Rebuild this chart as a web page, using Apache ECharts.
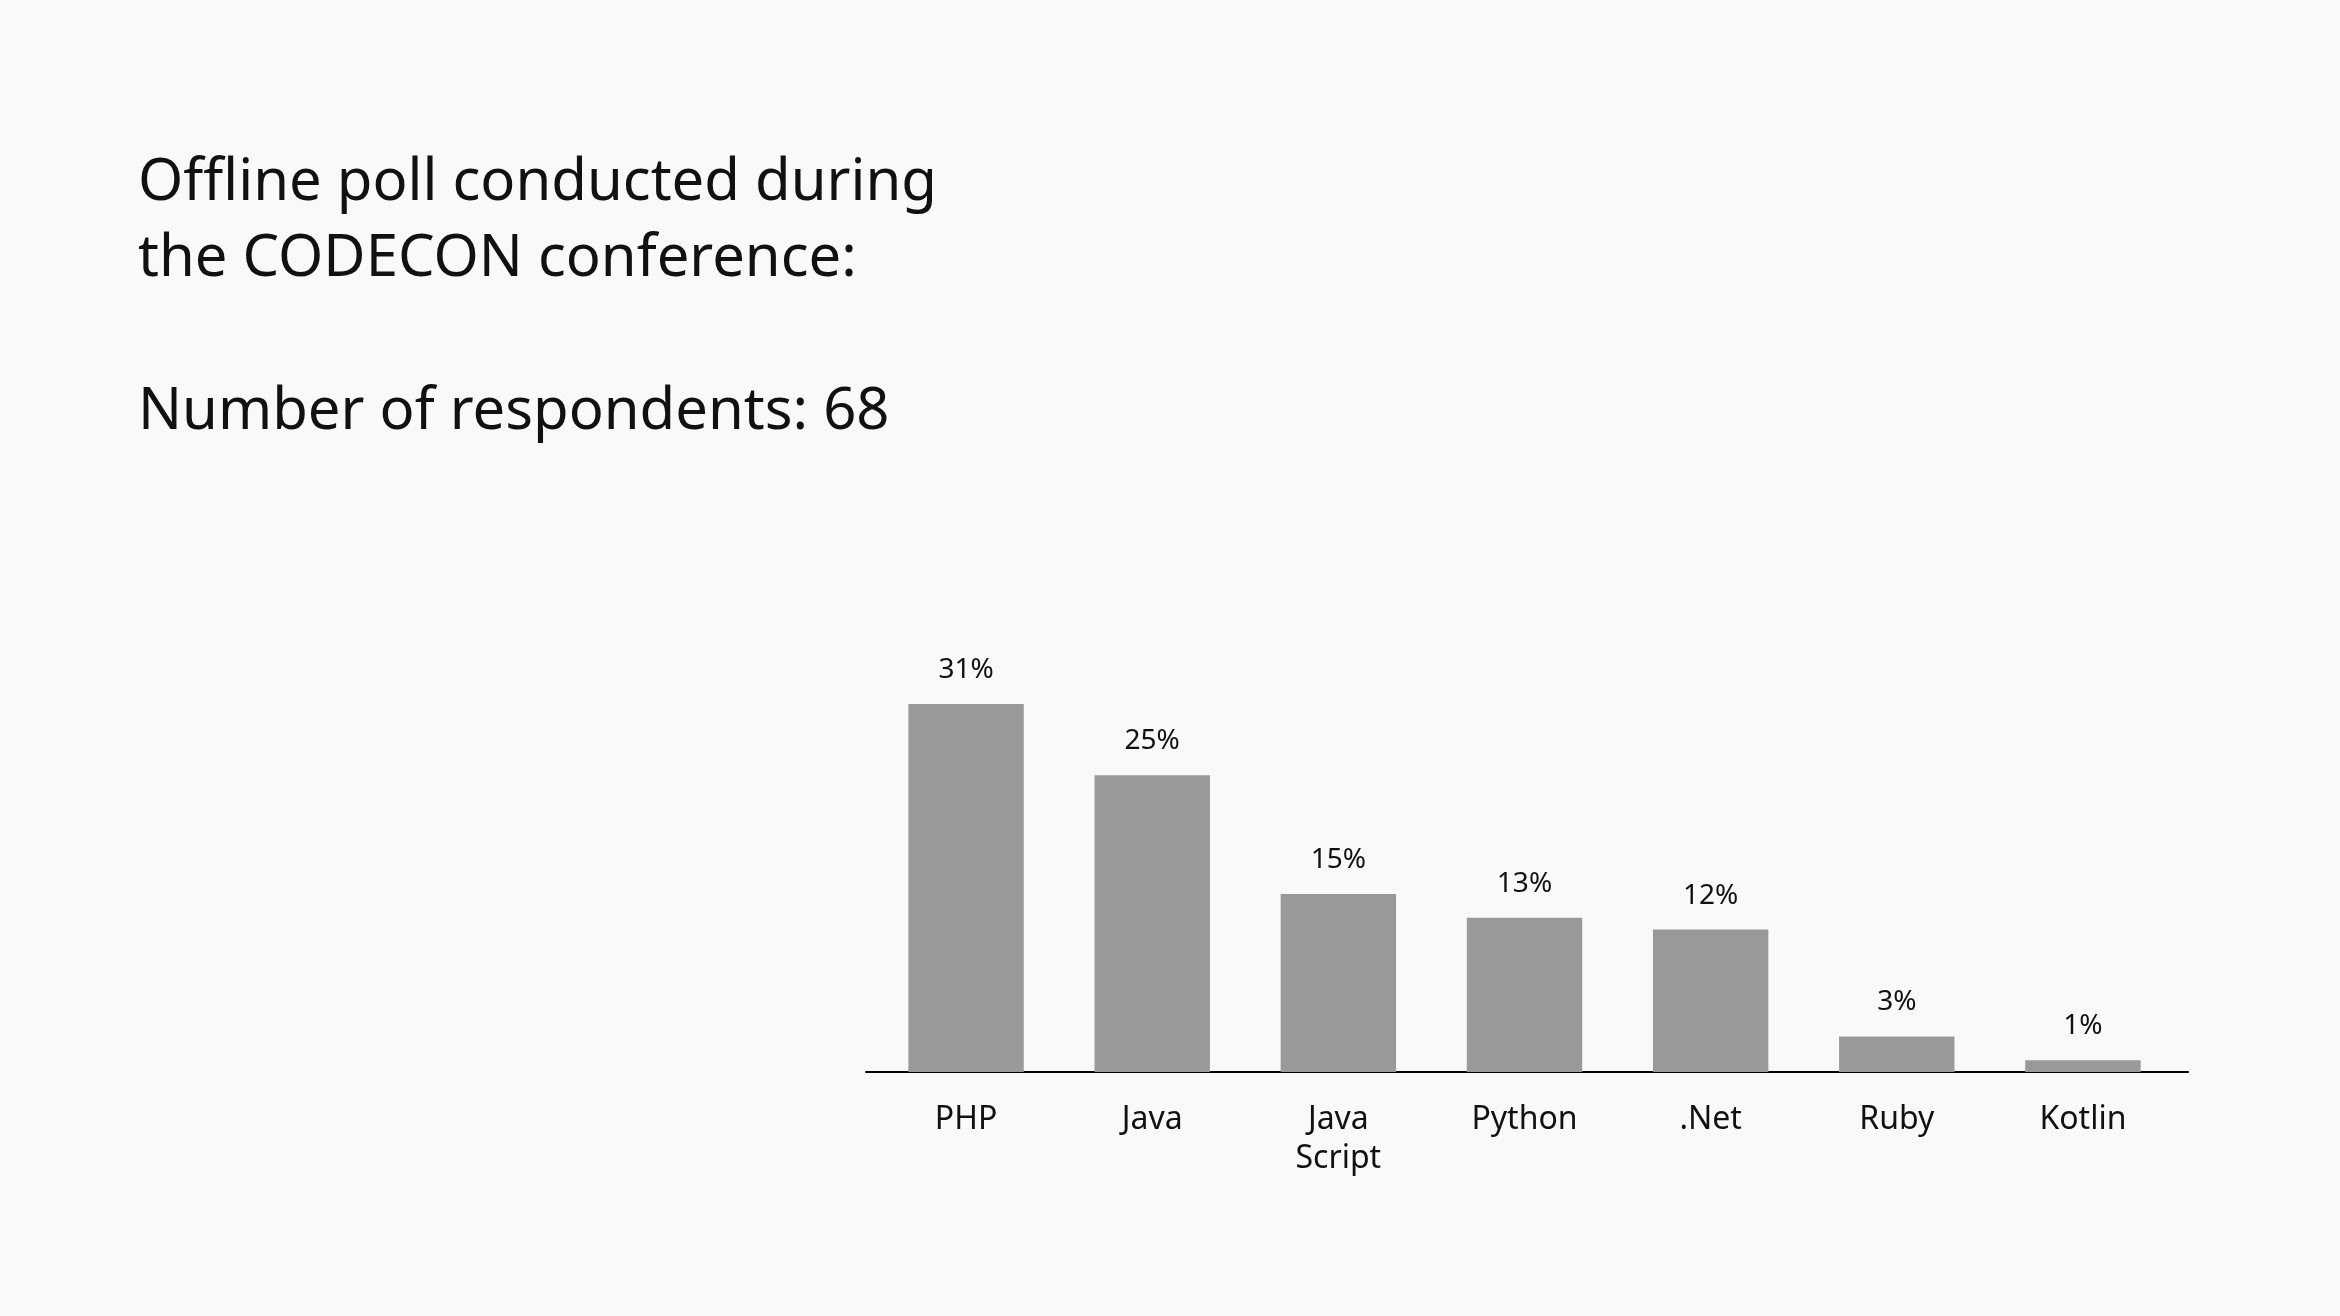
<!DOCTYPE html>
<html>
<head>
<meta charset="utf-8">
<script src="https://cdn.jsdelivr.net/npm/echarts@6/dist/echarts.min.js"></script>
<style>
  html, body { margin: 0; padding: 0; background: #f9f9f9; }
  #chart { width: 2340px; height: 1316px; }
</style>
</head>
<body>
<div id="chart"></div>
<script>
// Poll results: share of respondents per language
const languages = ['PHP', 'Java', 'Java\nScript', 'Python', '.Net', 'Ruby', 'Kotlin'];
const shares = [31, 25, 15, 13, 12, 3, 1];
const respondents = 68;

const FONT = '"Noto Sans", "Open Sans", sans-serif';

const chart = echarts.init(document.getElementById('chart'));
chart.setOption({
  backgroundColor: '#f9f9f9',
  animation: false,
  title: {
    text: 'Offline poll conducted during\nthe CODECON conference:\n\nNumber of respondents: ' + respondents,
    left: 138,
    top: 145,
    padding: 0,
    textStyle: {
      fontFamily: FONT,
      fontSize: 58,
      fontWeight: 'normal',
      color: '#111111',
      lineHeight: 76.5
    }
  },
  grid: [
    // bars
    { left: 873, right: 164, top: 704, bottom: 244, containLabel: false },
    // baseline rule, a little wider than the bar area
    { left: 866, right: 152, top: 704, bottom: 244, containLabel: false }
  ],
  xAxis: [{
    type: 'category',
    gridIndex: 0,
    data: languages,
    axisLine: { show: false },
    axisTick: { show: false },
    axisLabel: {
      margin: 28,
      fontFamily: FONT,
      fontSize: 32,
      lineHeight: 39,
      color: '#111111'
    }
  }, {
    type: 'value',
    gridIndex: 1,
    min: 0,
    max: 1,
    axisLine: { show: true, onZero: false, lineStyle: { color: '#000000', width: 2 } },
    axisTick: { show: false },
    axisLabel: { show: false },
    splitLine: { show: false }
  }],
  yAxis: [{
    type: 'value',
    gridIndex: 0,
    min: 0,
    max: 31,
    show: false,
    splitLine: { show: false }
  }, {
    type: 'value',
    gridIndex: 1,
    min: 0,
    max: 1,
    show: false,
    splitLine: { show: false }
  }],
  series: [{
    type: 'bar',
    xAxisIndex: 0,
    yAxisIndex: 0,
    data: shares,
    barWidth: '62%',
    itemStyle: { color: '#999999' },
    label: {
      show: true,
      position: 'top',
      distance: 20,
      formatter: '{c}%',
      fontFamily: FONT,
      fontSize: 28,
      color: '#111111'
    }
  }]
});
</script>
</body>
</html>
